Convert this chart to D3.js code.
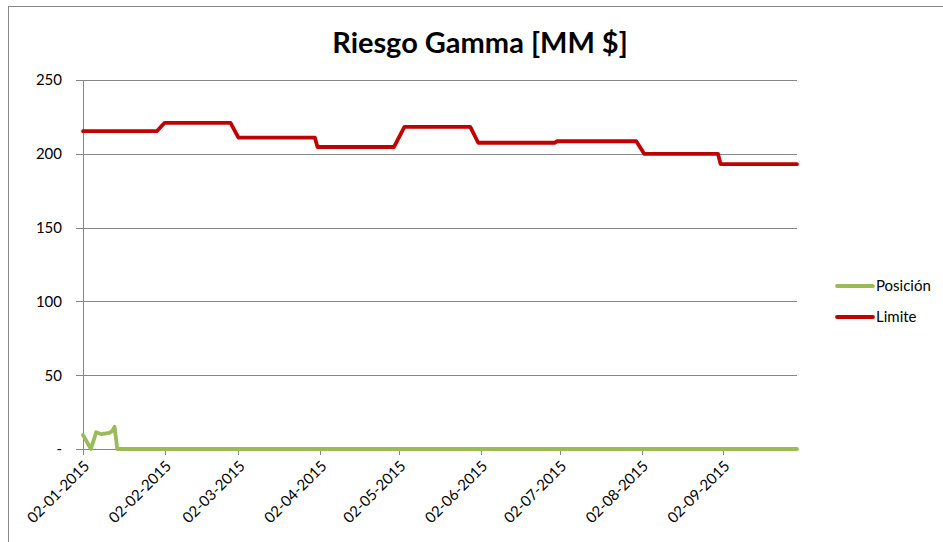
<!DOCTYPE html>
<html>
<head>
<meta charset="utf-8">
<script src="https://cdn.jsdelivr.net/npm/d3@7"></script>
<style>
  html, body { margin: 0; padding: 0; background: #fff; }
  svg { display: block; }
</style>
</head>
<body>
<svg id="chart" width="943" height="542"></svg>
<script>
/* Riesgo Gamma [MM $] — posición vs límite, daily 2015.
   Lines are drawn from their corner points only. */

const limiteDates = ['2015-01-02', '2015-01-30', '2015-02-02', '2015-02-27', '2015-03-02',
  '2015-03-31', '2015-04-01', '2015-04-30', '2015-05-04', '2015-05-29', '2015-06-01',
  '2015-06-30', '2015-07-01', '2015-07-31', '2015-08-03', '2015-08-31', '2015-09-01', '2015-09-30'];
const limiteValues = [215.3, 215.3, 221, 221, 211,
  211, 204.6, 204.6, 218.2, 218.2, 207.5,
  207.5, 208.5, 208.5, 200, 200, 193, 193];

const posicionDates = ['2015-01-02', '2015-01-05', '2015-01-07', '2015-01-09', '2015-01-12',
  '2015-01-13', '2015-01-14', '2015-01-15', '2015-09-30'];
const posicionValues = [9.5, 0, 11.3, 10, 11, 12, 15, 0, 0];

const yTicks = [0, 50, 100, 150, 200, 250];
const xTickDates = ['2015-01-02', '2015-02-02', '2015-03-02', '2015-04-02', '2015-05-02',
  '2015-06-02', '2015-07-02', '2015-08-02', '2015-09-02'];

const seriesNames = ['Posición', 'Limite'];
const seriesColors = ['#9BBB59', '#C00000'];

(function () {
  const svg = d3.select('#chart');
  const font = 'Lato, "Open Sans", sans-serif';
  const grid = '#868686';
  const parse = d3.utcParse('%Y-%m-%d');
  const fmt = d3.utcFormat('%d-%m-%Y');

  const left = 83, right = 797, top = 80, bottom = 449;

  const x = d3.scaleUtc()
    .domain([parse('2015-01-02'), parse('2015-09-30')])
    .range([left, right]);
  const y = d3.scaleLinear().domain([0, 250]).range([bottom, top]);

  // Outer chart frame (runs off the page at right/bottom)
  svg.append('rect')
    .attr('x', 8.5).attr('y', 6.5).attr('width', 1000).attr('height', 600)
    .attr('fill', 'none').attr('stroke', grid).attr('stroke-width', 1);

  // Title
  svg.append('text')
    .attr('x', 480).attr('y', 53)
    .attr('text-anchor', 'middle')
    .attr('font-family', font).attr('font-weight', 700).attr('font-size', 29)
    .attr('fill', '#000')
    .text('Riesgo Gamma [MM $]');

  // Y axis with gridlines
  const yAxis = d3.axisLeft(y)
    .tickValues(yTicks)
    .tickSize(-(right - left))
    .tickPadding(21)
    .tickFormat(d => d === 0 ? '-' : d);
  const gy = svg.append('g').attr('transform', `translate(${left},0)`).call(yAxis);
  gy.select('.domain').remove();
  gy.selectAll('.tick line').attr('stroke', grid).attr('shape-rendering', 'crispEdges');
  gy.selectAll('.tick text')
    .attr('font-family', font).attr('font-size', 15).attr('fill', '#000');
  // short outside tick marks
  gy.selectAll('.tick').append('line')
    .attr('x1', -7).attr('x2', 0)
    .attr('stroke', grid).attr('shape-rendering', 'crispEdges');

  svg.append('line')
    .attr('x1', left).attr('x2', left).attr('y1', top).attr('y2', bottom)
    .attr('stroke', grid).attr('shape-rendering', 'crispEdges');

  // X axis
  const xAxis = d3.axisBottom(x)
    .tickValues(xTickDates.map(parse))
    .tickSize(6)
    .tickSizeOuter(0)
    .tickFormat(fmt);
  const gx = svg.append('g').attr('transform', `translate(0,${bottom})`).call(xAxis);
  gx.select('.domain').attr('stroke', grid).attr('shape-rendering', 'crispEdges');
  gx.selectAll('.tick line').attr('stroke', grid).attr('shape-rendering', 'crispEdges');
  gx.selectAll('.tick text')
    .attr('font-family', font).attr('font-size', 15).attr('fill', '#000')
    .attr('text-anchor', 'end')
    .attr('dy', null).attr('y', 0)
    .attr('transform', 'translate(7,18) rotate(-45)');

  // Series
  const series = [
    posicionDates.map((d, i) => ({ date: parse(d), value: posicionValues[i] })),
    limiteDates.map((d, i) => ({ date: parse(d), value: limiteValues[i] }))
  ];
  const line = d3.line().x(d => x(d.date)).y(d => y(d.value));
  series.forEach((s, i) => {
    svg.append('path')
      .datum(s)
      .attr('d', line)
      .attr('fill', 'none')
      .attr('stroke', seriesColors[i])
      .attr('stroke-width', 3.8)
      .attr('stroke-linejoin', 'round')
      .attr('stroke-linecap', 'round');
  });

  // Legend
  seriesNames.forEach((name, i) => {
    const ly = 286 + i * 31;
    svg.append('line')
      .attr('x1', 837).attr('x2', 873).attr('y1', ly).attr('y2', ly)
      .attr('stroke', seriesColors[i]).attr('stroke-width', 3.8)
      .attr('stroke-linecap', 'round');
    svg.append('text')
      .attr('x', 876).attr('y', ly + 5)
      .attr('font-family', font).attr('font-size', 15).attr('fill', '#000')
      .text(name);
  });
})();
</script>
</body>
</html>
